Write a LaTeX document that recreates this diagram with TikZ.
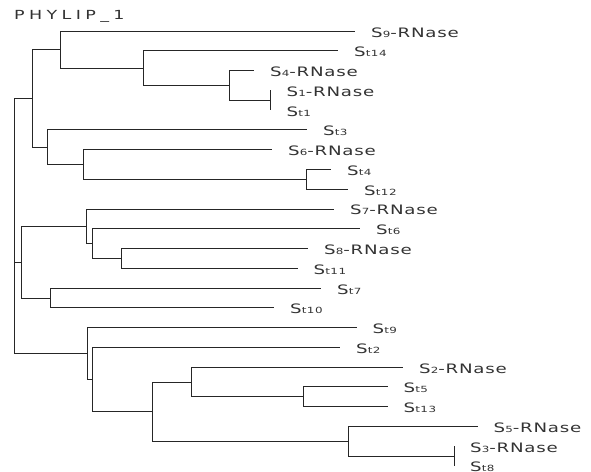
\documentclass[tikz,border=0pt]{standalone}
\usepackage{fontspec}
\setmainfont{DejaVu Sans}[FakeStretch=1.4, LetterSpace=6]
\newcommand\smd[1]{{\fontsize{8.5}{9}\selectfont #1}}

\begin{document}
\begin{tikzpicture}[x=1pt, y=-1pt,
    branch/.style={line width=0.8pt, black!85},
    taxon/.style={inner sep=0pt, anchor=base west, text=black!80, font=\fontsize{13}{14}\selectfont}]
    \useasboundingbox (0,0) rectangle (591,471);
    \node[taxon, anchor=west, font=\fontsize{12.5}{14}\selectfont\addfontfeature{LetterSpace=35}](title)at(14,16.5){PHYLIP\_1};
    % tips of the tree, with their labels
    \foreach \n/\i/\x/\t in {
        s9/1/355/{S\smd{9}-RNase}, st14/2/338/{S\smd{t14}}, s4/3/254/{S\smd{4}-RNase},
        s1/4/270.5/{S\smd{1}-RNase}, st1/5/270.5/{S\smd{t1}}, st3/6/307/{S\smd{t3}},
        s6/7/272/{S\smd{6}-RNase}, st4/8/331/{S\smd{t4}}, st12/9/348/{S\smd{t12}},
        s7/10/334/{S\smd{7}-RNase}, st6/11/360/{S\smd{t6}}, s8/12/308/{S\smd{8}-RNase},
        st11/13/297.5/{S\smd{t11}}, st7/14/321/{S\smd{t7}}, st10/15/274/{S\smd{t10}},
        st9/16/356.5/{S\smd{t9}}, st2/17/340/{S\smd{t2}}, s2/18/403/{S\smd{2}-RNase},
        st5/19/387.5/{S\smd{t5}}, st13/20/387.5/{S\smd{t13}}, s5/21/477.5/{S\smd{5}-RNase},
        s3/22/454/{S\smd{3}-RNase}, st8/23/454/{S\smd{t8}}}
    {
        \coordinate (\n) at (\x,{31+19.77*(\i-1)});
        \node[taxon](\n-l)at([shift={(16,6)}]\n){\t};
    }
    % inner nodes
    \coordinate (root) at (14,262.05);
    \coordinate (a) at (32,98.4);
    \coordinate (a1) at (60,49.55);
    \coordinate (a2) at (143,68.1);
    \coordinate (a3) at (229,85.35);
    \coordinate (a4) at (270.5,100.2);
    \coordinate (a5) at (47,147.2);
    \coordinate (a6) at (83,164.45);
    \coordinate (a7) at (306,179.3);
    \coordinate (b) at (21,262.05);
    \coordinate (b1) at (86,226.2);
    \coordinate (b2) at (92,243.55);
    \coordinate (b3) at (121,258.4);
    \coordinate (b4) at (50,297.9);
    \coordinate (c) at (87,353.55);
    \coordinate (c1) at (92,379.5);
    \coordinate (c2) at (152,411.6);
    \coordinate (c3) at (191,381.95);
    \coordinate (c4) at (303,396.8);
    \coordinate (c5) at (348,441.25);
    \coordinate (c6) at (454,456.1);
    \draw[branch]
    (root)|-(a) (root)|-(b) (root)|-(c)
    (a)|-(a1) (a)|-(a5)
    (a1)|-(s9) (a1)|-(a2)
    (a2)|-(st14) (a2)|-(a3)
    (a3)|-(s4) (a3)|-(a4)
    (a4)|-(s1) (a4)|-(st1)
    (a5)|-(st3) (a5)|-(a6)
    (a6)|-(s6) (a6)|-(a7)
    (a7)|-(st4) (a7)|-(st12)
    (b)|-(b1) (b)|-(b4)
    (b1)|-(s7) (b1)|-(b2)
    (b2)|-(st6) (b2)|-(b3)
    (b3)|-(s8) (b3)|-(st11)
    (b4)|-(st7) (b4)|-(st10)
    (c)|-(st9) (c)|-(c1)
    (c1)|-(st2) (c1)|-(c2)
    (c2)|-(c3) (c2)|-(c5)
    (c3)|-(s2) (c3)|-(c4)
    (c4)|-(st5) (c4)|-(st13)
    (c5)|-(s5) (c5)|-(c6)
    (c6)|-(s3) (c6)|-(st8)
    ;
\end{tikzpicture}
\end{document}
